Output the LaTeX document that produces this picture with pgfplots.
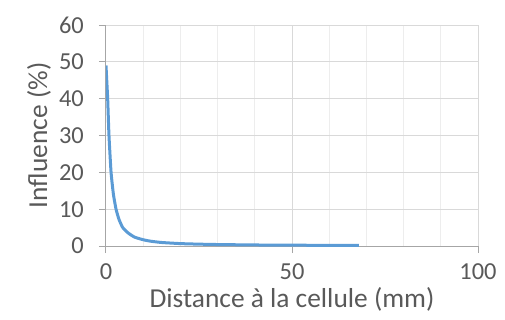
\documentclass[border=0pt]{standalone}
\usepackage{fontspec}
\setmainfont{Carlito}
\usepackage{pgfplots}
\pgfplotsset{compat=1.18}
\definecolor{txt}{HTML}{595959}
\definecolor{line}{HTML}{5B9BD5}
\definecolor{gridmaj}{HTML}{D9D9D9}
\definecolor{gridmin}{HTML}{EDEDED}
\definecolor{axcol}{HTML}{A6A6A6}
\begin{document}
\begin{tikzpicture}
\path[use as bounding box] (-106bp,-74bp) rectangle (399bp,246bp);
\begin{axis}[
  at={(0,0)}, anchor=origin,
  scale only axis, width=372bp, height=221bp,
  xmin=0, xmax=100, ymin=0, ymax=60,
  xtick={0,50,100}, minor xtick={10,20,30,40,60,70,80,90},
  ytick={0,10,20,30,40,50,60},
  xmajorgrids, xminorgrids, ymajorgrids,
  major grid style={gridmaj, line width=1bp},
  minor grid style={gridmin, line width=1bp},
  axis x line*=bottom, axis y line*=left,
  axis line style={axcol, line width=1bp, -},
  tick style={axcol, line width=1bp},
  tick align=outside, major tick length=7bp, minor tick length=0pt,
  /pgf/number format/assume math mode=true,
  tick label style={font=\fontsize{24.5}{28}\selectfont, text=txt},
  xticklabel style={anchor=center, yshift=-19bp},
  yticklabel style={anchor=east, inner sep=0pt, xshift=-15bp},
  label style={font=\fontsize{27.5}{32}\selectfont, text=txt},
  xlabel={Distance à la cellule (mm)},
  ylabel={Influence (\%)},
  xlabel style={at={(axis description cs:0.5,0)}, anchor=center, yshift=-53bp},
  ylabel style={at={(axis description cs:0,0.5)}, anchor=center, rotate=0, xshift=0bp, yshift=67bp},
]
\addplot[line, line width=3bp, smooth, tension=0.3] coordinates {
(0,49) (0.2,45) (0.45,40) (0.8,30) (1.36,20) (2,14) (2.7,10) (3.5,7.2)
(4.5,5) (6,3.5) (7.7,2.4) (10,1.7) (12,1.3) (15,0.95) (20,0.65) (25,0.5)
(30,0.4) (40,0.28) (50,0.22) (60,0.18) (68,0.15)
};
\end{axis}
\end{tikzpicture}
\end{document}
